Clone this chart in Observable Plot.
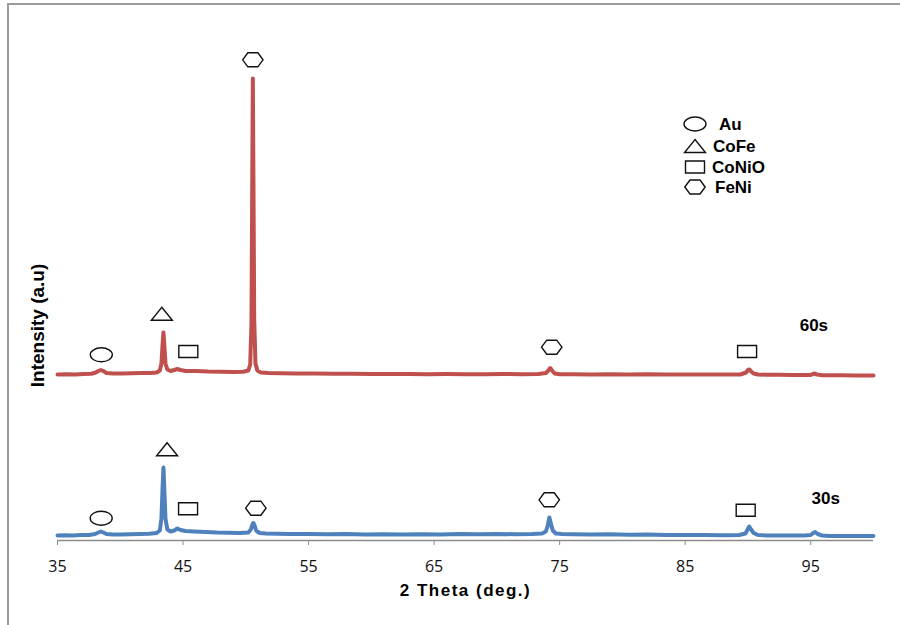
<!DOCTYPE html>
<html><head><meta charset="utf-8">
<script src="https://cdn.jsdelivr.net/npm/d3@7"></script>
<script src="https://cdn.jsdelivr.net/npm/@observablehq/plot@0.6"></script>
<style>
body{margin:0;background:#fff;overflow:hidden}
#wrap{position:relative;width:900px;height:625px;overflow:hidden;background:#fff}
#frame{position:absolute;left:7px;top:3px;width:1000px;height:1000px;border:2px solid #9b9b9b}
#chart{position:absolute;left:0;top:0}
#legend{position:absolute;left:0;top:0}
.lg-row{position:absolute;height:20px;line-height:20px;font:bold 17px "Liberation Sans",Arial,sans-serif;color:#000;white-space:nowrap}
</style></head><body>
<div id="wrap"><div id="frame"></div><div id="chart"></div><div id="legend"></div></div>
<script>
// ---- data (2θ in degrees, intensity in arbitrary units) ----
const theta30 = [35.0,35.6,36.2,36.9,37.5,38.0,38.25,38.45,38.65,38.9,39.4,40.0,40.8,41.6,42.3,42.9,43.15,43.28,43.36,43.44,43.52,43.6,43.75,44.0,44.3,44.55,44.8,45.2,45.9,46.8,47.7,48.6,49.5,50.2,50.4,50.5,50.6,50.7,50.82,51.1,51.6,52.5,53.5,55,56.5,58,59.5,61,62.5,64,65.5,67,68.5,70,71.5,72.8,73.6,73.9,74.05,74.18,74.3,74.45,74.7,75.2,76,77.5,79,80.5,82,83.5,85,86.5,88,89.3,89.8,89.95,90.1,90.25,90.45,90.8,91.5,92.5,93.5,94.5,95.0,95.2,95.35,95.55,95.9,96.5,97.5,98.5,99.3,100];
const int30 = [5,5.3,5,5.5,5.5,6.5,8,9,8,6.5,6,6,6.2,6.5,6.8,7.5,10,22,50,73,48,22,11,9,10,12,10.5,9.5,9,8.5,8,7.8,7.5,8,11,15,17.5,15,10,7.5,7,6.8,6.5,6.5,6.3,6.5,6,6.3,6,6.3,6,6.5,6.2,6.5,6.3,6.5,7,9,15,23,17,10,7,6.5,6.2,6,6.2,5.8,6,5.5,5.5,5.5,5.3,5.5,7,10.5,14,11,7.5,5.5,5,5,5,5,5.5,7.5,8.5,6.5,5,4.5,4.5,4.5,4.5,4.5];

const theta60 = [35,35.7,36.4,37.1,37.7,38.05,38.25,38.45,38.65,38.9,39.4,40.1,40.9,41.7,42.4,42.9,43.15,43.28,43.36,43.44,43.52,43.6,43.75,44.0,44.3,44.55,44.8,45.2,46,47,48,49,49.8,50.2,50.35,50.45,50.51,50.56,50.61,50.67,50.77,50.92,51.2,51.8,52.8,54,55.5,57,58.5,60,61.5,63,64.5,66,67.5,69,70.5,72,73.3,73.9,74.1,74.25,74.4,74.6,75,76,77.5,79,80.5,82,83.5,85,86.5,88,89.4,89.85,90.0,90.12,90.25,90.45,90.8,91.5,92.5,93.5,94.5,95.0,95.25,95.5,95.9,96.5,97.5,98.5,99.3,100];
const int60 = [5,5.3,5,5.5,5.8,7,8.5,9.5,8.5,6.5,6,6,6.2,6.5,6.5,7,9,16,33,47,32,16,10,8.5,9.5,10.5,9.5,8.5,8.5,8,7.8,7.5,7.8,9,15,55,190,301,195,60,16,9,7,6.5,6.2,6,6,5.8,5.8,5.5,5.5,5.5,5.3,5.5,5.3,5.3,5.5,5.3,5.5,6.5,9,11.5,9,6,5.3,5.3,5,5.3,5,5.3,5,5,5,5,5,7,9.5,10,8,6,5,4.8,4.8,4.5,4.5,4.5,6,5,4.3,4.2,4.2,4,4,4];

const offset60 = 161;          // vertical stacking offset of the 60s pattern
const xTicks = [35,45,55,65,75,85,95];

// phase markers
const mark30Theta = [38.48,43.73,45.4,50.8,74.17,89.82];
const mark30Int   = [22.3,91.3,31.7,32.3,40.7,30.3];
const mark30Phase = ["Au","CoFe","CoNiO","FeNi","FeNi","CoNiO"];
const mark60Theta = [38.49,43.31,45.42,50.56,74.37,89.93];
const mark60Int   = [24.7,65.7,28,319.7,32.3,28];
const mark60Phase = ["Au","CoFe","CoNiO","FeNi","FeNi","CoNiO"];

const seriesLabels = ["30s","60s"];
const labelTheta = [96.2,95.25];
const labelInt = [41.7,54];

const legendNames = ["Au","CoFe","CoNiO","FeNi"];

// ---- symbols ----
const shapes = {
  Au: {draw(c){const rx=11,ry=7,k=0.5523;c.moveTo(rx,0);c.bezierCurveTo(rx,ry*k,rx*k,ry,0,ry);c.bezierCurveTo(-rx*k,ry,-rx,ry*k,-rx,0);c.bezierCurveTo(-rx,-ry*k,-rx*k,-ry,0,-ry);c.bezierCurveTo(rx*k,-ry,rx,-ry*k,rx,0);c.closePath();}},
  CoFe: {draw(c){c.moveTo(0,-6.5);c.lineTo(10.5,6.5);c.lineTo(-10.5,6.5);c.closePath();}},
  CoNiO: {draw(c){c.rect(-9.5,-6,19,12);}},
  FeNi: {draw(c){c.moveTo(-10.2,0);c.lineTo(-5,-7);c.lineTo(5,-7);c.lineTo(10.2,0);c.lineTo(5,7);c.lineTo(-5,7);c.closePath();}}
};

// ---- tables ----
const blue = theta30.map((t,i)=>({theta:t, I:int30[i]}));
const red = theta60.map((t,i)=>({theta:t, I:int60[i]+offset60}));
const markers = [
  ...mark30Theta.map((t,i)=>({theta:t, I:mark30Int[i], phase:mark30Phase[i]})),
  ...mark60Theta.map((t,i)=>({theta:t, I:mark60Int[i]+offset60, phase:mark60Phase[i]}))
];
const labels = seriesLabels.map((s,i)=>({theta:labelTheta[i], I:labelInt[i]+(i===1?offset60:0), s}));

const markerMarks = legendNames.map(p => Plot.dot(markers.filter(d=>d.phase===p), {
  x:"theta", y:"I", symbol:shapes[p], fill:"white", stroke:"#111", strokeWidth:1.4
}));

const plot = Plot.plot({
  width:900, height:625,
  marginLeft:57, marginRight:27, marginTop:40, marginBottom:85,
  x:{domain:[35,100]},
  y:{domain:[0,500], axis:null},
  style:{background:"transparent", fontFamily:"'Liberation Sans',Arial,sans-serif", color:"#000"},
  marks:[
    Plot.ruleY([0], {stroke:"#8c8c8c", strokeWidth:1.3}),
    Plot.axisX({ticks:xTicks, tickSize:5, tickPadding:15, stroke:"#8c8c8c", fill:"#111", fontSize:16, fontFamily:"'Open Sans',sans-serif", label:null, tickFormat:d=>String(d)}),
    Plot.line(red, {x:"theta", y:"I", stroke:"#C0504D", strokeWidth:4, strokeLinejoin:"round", strokeLinecap:"round"}),
    Plot.line(blue, {x:"theta", y:"I", stroke:"#4F81BD", strokeWidth:4, strokeLinejoin:"round", strokeLinecap:"round"}),
    ...markerMarks,
    Plot.text(labels, {x:"theta", y:"I", text:"s", fontSize:17, fontWeight:"bold", fill:"#000"}),
    Plot.text(["2 Theta (deg.)"], {frameAnchor:"bottom", dy:55, fontSize:17, fontWeight:"bold", fill:"#000"}),
    Plot.text(["Intensity (a.u)"], {frameAnchor:"left", textAnchor:"middle", rotate:-90, dx:-20, dy:35, fontSize:19, fontWeight:"bold", fill:"#000"})
  ]
});
plot.querySelectorAll("text").forEach(t=>{ if (t.textContent==="2 Theta (deg.)") t.setAttribute("letter-spacing","1.5px"); });
document.getElementById("chart").appendChild(plot);

// ---- legend ----
const legendCenterY = [124,146,167,187];
const legendTextX = [719,713,712,715];
const lg = document.getElementById("legend");
legendNames.forEach((name,i)=>{
  const p = d3.path(); shapes[name].draw(p);
  const svg = document.createElementNS("http://www.w3.org/2000/svg","svg");
  svg.setAttribute("width",26); svg.setAttribute("height",20);
  svg.style.position="absolute"; svg.style.left=(694.5-13)+"px"; svg.style.top=(legendCenterY[i]-10)+"px";
  const path = document.createElementNS("http://www.w3.org/2000/svg","path");
  path.setAttribute("d", p.toString()); path.setAttribute("transform","translate(13,10)");
  path.setAttribute("fill","white"); path.setAttribute("stroke","#111"); path.setAttribute("stroke-width","1.4");
  svg.appendChild(path); lg.appendChild(svg);
  const div = document.createElement("div"); div.className="lg-row"; div.textContent=name;
  div.style.left=legendTextX[i]+"px"; div.style.top=(legendCenterY[i]-10+1)+"px";
  lg.appendChild(div);
});
</script>
</body></html>
